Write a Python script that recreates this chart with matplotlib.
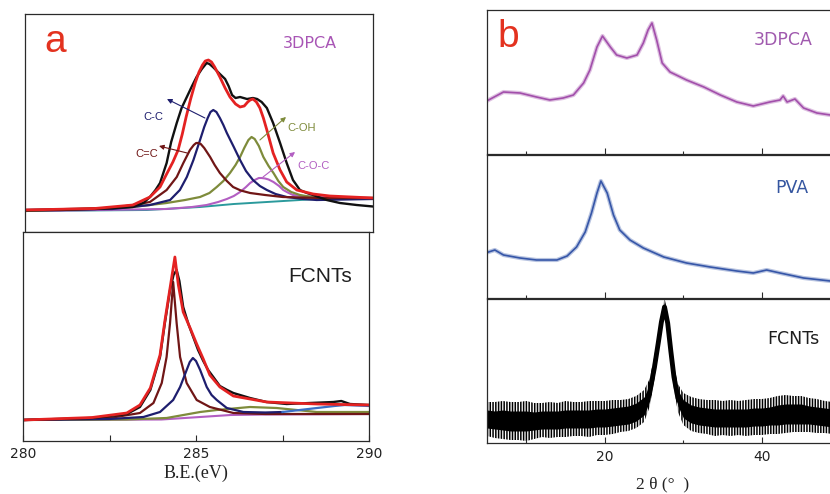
import matplotlib
matplotlib.use('Agg')
import matplotlib.pyplot as plt
from matplotlib.ticker import MultipleLocator

plt.rcParams['font.family'] = ['Liberation Sans', 'DejaVu Sans']
plt.rcParams['hatch.linewidth'] = 1.1

# ---- (a) C1s XPS, 3DPCA -------------------------------------------------
pca_raw_ev = [280.0, 281.0, 282.0, 283.1, 283.4, 283.59, 283.75, 283.88, 284.07, 284.2,
              284.36, 284.5, 284.65, 284.8, 284.93, 285.08, 285.22, 285.30, 285.40, 285.60,
              285.75, 285.85, 285.95, 286.05, 286.18, 286.38, 286.55, 286.67, 286.80,
              286.95, 287.13, 287.33, 287.52, 287.70, 287.90, 288.1, 288.28, 288.67,
              289.05, 289.53, 290.0]
pca_raw = [21.5, 22, 23, 25, 29, 35, 42, 49, 69, 90, 109, 124, 135, 146, 155, 163, 169,
           168, 165, 158, 153, 146, 137, 134, 135, 133, 134, 133, 130, 124, 109, 89, 69,
           52, 42, 39, 37, 32, 29, 27, 25.5]

pca_fit_ev = [280.0, 282.0, 283.1, 283.59, 283.88, 284.07, 284.25, 284.40, 284.52, 284.63,
              284.76, 284.89, 285.0, 285.10, 285.18, 285.27, 285.36, 285.45, 285.60,
              285.75, 285.89, 286.05, 286.18, 286.3, 286.40, 286.47, 286.55, 286.65,
              286.75, 286.85, 286.95, 287.13, 287.33, 287.52, 287.81, 288.28, 288.76, 290.0]
pca_fit = [22, 23.5, 27, 35, 45, 58, 70, 82, 98, 115, 133, 149, 160, 167, 171, 172, 170,
           165, 155, 144, 135, 128, 125, 126, 130, 132, 133, 130, 124, 114, 102, 79, 62,
           50, 42, 38, 36, 34]

pca_cc_ev = [280.0, 282.5, 283.59, 284.17, 284.45, 284.65, 284.84, 285.03, 285.15, 285.25,
             285.33, 285.41, 285.50, 285.60, 285.70, 285.80, 286.0, 286.18, 286.35, 286.55,
             286.75, 286.95, 287.2, 287.52, 288.0, 288.38, 290.0]
pca_cc = [22, 23, 27, 32, 42, 55, 72, 92, 105, 114, 120, 122, 120, 114, 107, 99, 85, 72,
          61, 52, 46, 42, 38, 35, 33, 32, 33]

pca_c2c_ev = [280.0, 282.5, 283.1, 283.59, 284.07, 284.36, 284.55, 284.74, 284.85, 284.92,
              284.98, 285.05, 285.15, 285.32, 285.45, 285.60, 285.80, 285.98, 286.2,
              286.47, 286.9, 287.41, 288.5, 290.0]
pca_c2c = [22, 24, 27, 30, 42, 55, 69, 82, 87, 89, 89, 88, 84, 75, 67, 59, 51, 45, 41.5,
           39, 37, 35, 34, 34]

pca_coh_ev = [280.0, 283.1, 284.07, 284.6, 285.03, 285.3, 285.51, 285.7, 285.89, 286.05,
              286.18, 286.3, 286.42, 286.51, 286.6, 286.72, 286.85, 287.0, 287.14, 287.28,
              287.42, 287.65, 287.90, 288.4, 290.0]
pca_coh = [21, 25, 29, 32, 35, 39, 45, 51, 59, 67, 75, 84, 92, 95, 93, 86, 75, 66, 59, 51,
           45, 40, 37, 34, 34]

pca_coc_ev = [280.0, 284.07, 284.8, 285.22, 285.55, 285.80, 286.0, 286.18, 286.35, 286.47,
              286.6, 286.72, 286.80, 286.9, 287.0, 287.14, 287.3, 287.42, 287.55, 287.70,
              288.0, 288.38, 290.0]
pca_coc = [21, 23, 25, 27, 30, 33, 36, 40, 45, 49, 52, 54, 54, 53.5, 52.5, 50, 46, 42,
           39.5, 37, 36, 35, 34]

pca_bg_ev = [280.0, 283.5, 285.03, 286.0, 286.95, 288.38, 290.0]
pca_bg = [21, 22, 25, 28, 30, 33, 33.5]

# ---- (a) C1s XPS, FCNTs -------------------------------------------------
cnt_raw_ev = [280.0, 282.0, 283.0, 283.38, 283.68, 283.96, 284.10, 284.25, 284.35, 284.44,
              284.52, 284.63, 284.78, 284.92, 285.06, 285.21, 285.35, 285.50, 285.69,
              285.9, 286.08, 286.56, 287.04, 287.62, 288.29, 288.97, 289.2, 289.45, 290.0]
cnt_raw = [21, 23, 27, 34, 51, 84, 118, 151, 166, 171, 160, 134, 117, 104, 91, 80, 71, 64,
           55, 51, 48, 43, 39, 37, 38, 39, 40, 37, 36]

cnt_fit_ev = [280.0, 282.0, 283.0, 283.38, 283.68, 283.96, 284.10, 284.25, 284.39, 284.49,
              284.63, 284.83, 285.02, 285.21, 285.40, 285.69, 286.08, 287.04, 288.49, 290.0]
cnt_fit = [21, 23.5, 28, 36, 53, 86, 120, 153, 184, 156, 129, 113, 97, 82, 66, 54, 45, 39,
           37, 36]

cnt_cc_ev = [280.0, 282.5, 283.48, 283.96, 284.34, 284.54, 284.73, 284.82, 284.91, 285.0,
             285.12, 285.31, 285.45, 285.60, 285.89, 286.37, 287.0, 287.5]
cnt_cc = [21, 22, 24, 29, 41, 54, 71, 79, 83, 80, 71, 54, 46, 41, 33, 29, 28.5, 29]

cnt_c2c_ev = [280.0, 282.51, 283.38, 283.77, 284.01, 284.15, 284.25, 284.34, 284.44, 284.54,
              284.73, 285.02, 285.40, 286.08, 287.0, 290.0]
cnt_c2c = [21, 23, 28, 38, 58, 84, 118, 159, 118, 84, 58, 41, 34, 28, 27, 27]

cnt_coh_ev = [280.0, 283.0, 284.15, 285.12, 285.6, 286.56, 287.33, 288.49, 290.0]
cnt_coh = [21, 21.5, 23, 29, 31, 34, 33, 29, 29]

cnt_coc_ev = [280.0, 284.0, 285.12, 286.0, 287.0, 290.0]
cnt_coc = [21, 21.5, 24, 26, 26.5, 27]

cnt_pi_ev = [287.5, 288.0, 288.5, 289.0, 289.3, 290.0]
cnt_pi = [29, 31, 33, 35, 36, 35]

# ---- (b) XRD -------------------------------------------------------------
pca_xrd_2t = [5.2, 7.1, 9.2, 11.3, 13.0, 14.7, 16.0, 17.3, 18.1, 19.0, 19.7, 20.7, 21.5,
              22.8, 24.1, 24.9, 25.5, 26.0, 26.6, 27.3, 28.3, 30.4, 32.6, 34.7, 36.8, 38.9,
              41.0, 42.3, 42.7, 43.2, 44.2, 45.3, 47.0, 48.7, 50.0]
pca_xrd = [54, 62, 61, 57, 54, 56, 59, 71, 84, 107, 118, 107, 99, 96, 99, 111, 124, 131,
           114, 91, 82, 74, 67, 59, 52, 48, 52, 54, 58, 52, 55, 46, 41, 39, 38]

pva_xrd_2t = [5.2, 6.0, 7.1, 9.2, 11.3, 13.9, 15.2, 16.4, 17.5, 18.3, 19.0, 19.5, 20.3,
              21.1, 21.9, 23.2, 24.9, 27.5, 30.4, 33.4, 36.8, 38.9, 40.6, 42.3, 45.3, 48.7,
              50.0]
pva_xrd = [46, 48, 43, 40, 38, 38, 42, 51, 66, 85, 105, 117, 105, 83, 68, 58, 50, 41, 35,
           31, 27, 25, 28, 25, 20, 17, 16]

cnt_xrd_2t = [5, 6, 7, 8, 9, 10, 11, 12, 13, 14, 15, 16, 17, 18, 19, 20, 21, 22, 23, 24,
              25, 25.7, 26.3, 26.8, 27.2, 27.6, 28.0, 28.4, 28.8, 29.3, 30, 31, 32, 33, 34,
              35, 36, 37, 38, 39, 40, 41, 42, 43, 44, 45, 46, 47, 48, 49, 50]
cnt_xrd = [24, 23, 23, 22, 22, 22, 22, 23, 23, 23, 24, 24, 24, 24, 25, 25, 26, 27, 28, 31,
           37, 50, 75, 100, 121, 136, 120, 92, 66, 45, 34, 29, 27, 26, 25, 25, 25, 25, 25,
           26, 26, 27, 28, 29, 29, 29, 28, 27, 26, 25, 25]
# half heights of the dense core and of the outer spikes of the FCNTs noise
cnt_xrd_core = [9, 9, 10, 10, 10, 10, 9, 9, 9, 9, 9, 9, 9, 9, 9, 9, 9, 9, 9, 9, 9, 8, 7,
                6, 5, 5, 5, 6, 7, 8, 9, 9, 9, 9, 9, 9, 9, 9, 9, 9, 9, 9, 10, 10, 10, 10, 9,
                9, 9, 9, 9]
cnt_xrd_spike = [17, 18, 19, 19, 19, 20, 18, 17, 18, 17, 18, 17, 17, 18, 17, 17, 17, 16,
                 16, 16, 16, 14, 12, 10, 9, 9, 9, 10, 12, 14, 16, 17, 17, 17, 18, 17, 18,
                 17, 18, 18, 18, 18, 19, 19, 18, 18, 17, 17, 16, 16, 16]

RED = '#e3321f'
SPINE = '#2a2a2a'
C_RAW, C_FIT = '#111111', '#e42222'
C_CC, C_C2C, C_COH, C_COC = '#1e1e6e', '#701616', '#7e8b3b', '#b25ec2'
C_BG, C_PI = '#2b9a9c', '#3b6fc6'
WIDE = ['DejaVu Sans']


def frame(ax):
    for s in ax.spines.values():
        s.set_color(SPINE)
        s.set_linewidth(0.9)


fig = plt.figure(figsize=(8.3, 4.94), dpi=100)

# (a) upper: 3DPCA
ax1 = fig.add_axes([25/830, 262/494, 348/830, 218/494])
ax1.plot(pca_bg_ev, pca_bg, color=C_BG, lw=1.4)
ax1.plot(pca_coc_ev, pca_coc, color=C_COC, lw=1.5)
ax1.plot(pca_coh_ev, pca_coh, color=C_COH, lw=1.6)
ax1.plot(pca_cc_ev, pca_cc, color=C_CC, lw=1.6)
ax1.plot(pca_c2c_ev, pca_c2c, color=C_C2C, lw=1.6)
ax1.plot(pca_raw_ev, pca_raw, color=C_RAW, lw=1.7)
ax1.plot(pca_fit_ev, pca_fit, color=C_FIT, lw=2.0)
ax1.set_xlim(280, 290)
ax1.set_ylim(0, 218)
ax1.set_xticks([])
ax1.set_yticks([])
frame(ax1)
ax1.text(280.86, 190, 'a', color=RED, fontsize=28, ha='center', va='center')
ax1.text(288.19, 188, '3DPCA', color='#a855b5', fontsize=11.5, family=WIDE,
         ha='center', va='center')

peak_labels = [
    ('C-C', C_CC, (283.68, 115), (285.17, 114), (284.08, 133)),
    ('C=C', C_C2C, (283.51, 78), (284.66, 79), (283.85, 86)),
    ('C-OH', C_COH, (287.96, 104), (286.75, 92), (287.50, 115)),
    ('C-O-C', C_COC, (288.28, 66), (286.84, 55), (287.76, 80)),
]
for name, col, pos, tail, head in peak_labels:
    ax1.text(pos[0], pos[1], name, color=col, fontsize=8, ha='center', va='center')
    ax1.annotate('', xy=head, xytext=tail,
                 arrowprops=dict(arrowstyle='-|>', color=col, lw=0.8, mutation_scale=7,
                                 shrinkA=0, shrinkB=0))

# (a) lower: FCNTs
ax2 = fig.add_axes([23/830, 53/494, 346/830, 209/494])
ax2.plot(cnt_coc_ev, cnt_coc, color=C_COC, lw=1.5)
ax2.plot(cnt_coh_ev, cnt_coh, color=C_COH, lw=1.6)
ax2.plot(cnt_c2c_ev, cnt_c2c, color=C_C2C, lw=1.6)
ax2.plot(cnt_cc_ev, cnt_cc, color=C_CC, lw=1.6)
ax2.plot(cnt_pi_ev, cnt_pi, color=C_PI, lw=1.6)
ax2.plot(cnt_raw_ev, cnt_raw, color=C_RAW, lw=1.7)
ax2.plot(cnt_fit_ev, cnt_fit, color=C_FIT, lw=2.0)
ax2.set_xlim(280, 290)
ax2.set_ylim(0, 209)
ax2.set_yticks([])
ax2.set_xticks([280, 285, 290])
ax2.xaxis.set_minor_locator(MultipleLocator(2.5))
ax2.tick_params(axis='x', which='both', direction='in', length=4, width=0.8,
                color=SPINE, labelsize=10, labelcolor='#222222', pad=4)
for lab in ax2.get_xticklabels():
    lab.set_family(WIDE)
frame(ax2)
ax2.text(288.58, 164, 'FCNTs', color='#1e1e1e', fontsize=15, ha='center', va='center')
fig.text(196/830, 1 - 473/494, 'B.E.(eV)', family='Liberation Serif', fontsize=13,
         ha='center', va='center', color='#222222')

# (b) XRD, three stacked patterns; the frame runs past the right edge
xrd_panels = [
    (10, 154, pca_xrd_2t, pca_xrd, '#a24fab', '3DPCA', '#a05aae', 42.7, 114, 'center'),
    (155, 298, pva_xrd_2t, pva_xrd, '#3656a8', 'PVA', '#3556a0', 43.85, 110, 'center'),
    (299, 443, cnt_xrd_2t, cnt_xrd, '#000000', 'FCNTs', '#1e1e1e', 40.67, 104, 'left'),
]
for i, (top, bottom, tt, yy, col, name, tcol, tx, ty, ha) in enumerate(xrd_panels):
    h = bottom - top
    ax = fig.add_axes([487/830, (494 - bottom)/494, 353.5/830, h/494])
    if name == 'FCNTs':
        # spiky outer noise as dense vertical hatching, solid core inside it
        lo = [m - n for m, n in zip(cnt_xrd, cnt_xrd_spike)]
        hi = [m + n for m, n in zip(cnt_xrd, cnt_xrd_spike)]
        ax.fill_between(cnt_xrd_2t, lo, hi, facecolor='none', edgecolor=col,
                        hatch='||||||', lw=0)
        lo = [m - n for m, n in zip(cnt_xrd, cnt_xrd_core)]
        hi = [m + n for m, n in zip(cnt_xrd, cnt_xrd_core)]
        ax.fill_between(cnt_xrd_2t, lo, hi, color=col, lw=0)
        ax.plot(tt, yy, color=col, lw=3.5)
    else:
        ax.plot(tt, yy, color=col, lw=3.0, alpha=0.35)
        ax.plot(tt, yy, color=col, lw=1.2)
    ax.set_xlim(5, 50)
    ax.set_ylim(0, h)
    ax.set_yticks([])
    ax.set_xticks([20, 40])
    ax.xaxis.set_minor_locator(MultipleLocator(10))
    ax.tick_params(axis='x', which='major', direction='in', length=4.5, width=0.8,
                   color=SPINE, labelsize=10, labelcolor='#222222', pad=5)
    ax.tick_params(axis='x', which='minor', direction='in', length=2.5, width=0.8,
                   color=SPINE)
    for lab in ax.get_xticklabels():
        lab.set_family(WIDE)
    if i < 2:
        ax.tick_params(axis='x', which='major', labelbottom=False)
    frame(ax)
    ax.text(tx, ty, name, color=tcol, fontsize=12.5, family=WIDE, ha=ha, va='center')
    if i == 0:
        ax.text(7.67, 117, 'b', color=RED, fontsize=28, ha='center', va='center')

fig.text(663/830, 1 - 484/494, '2 θ (°  )', family='Liberation Serif', fontsize=12.5,
         ha='center', va='center', color='#222222')

fig.savefig('out.png', dpi=100)
